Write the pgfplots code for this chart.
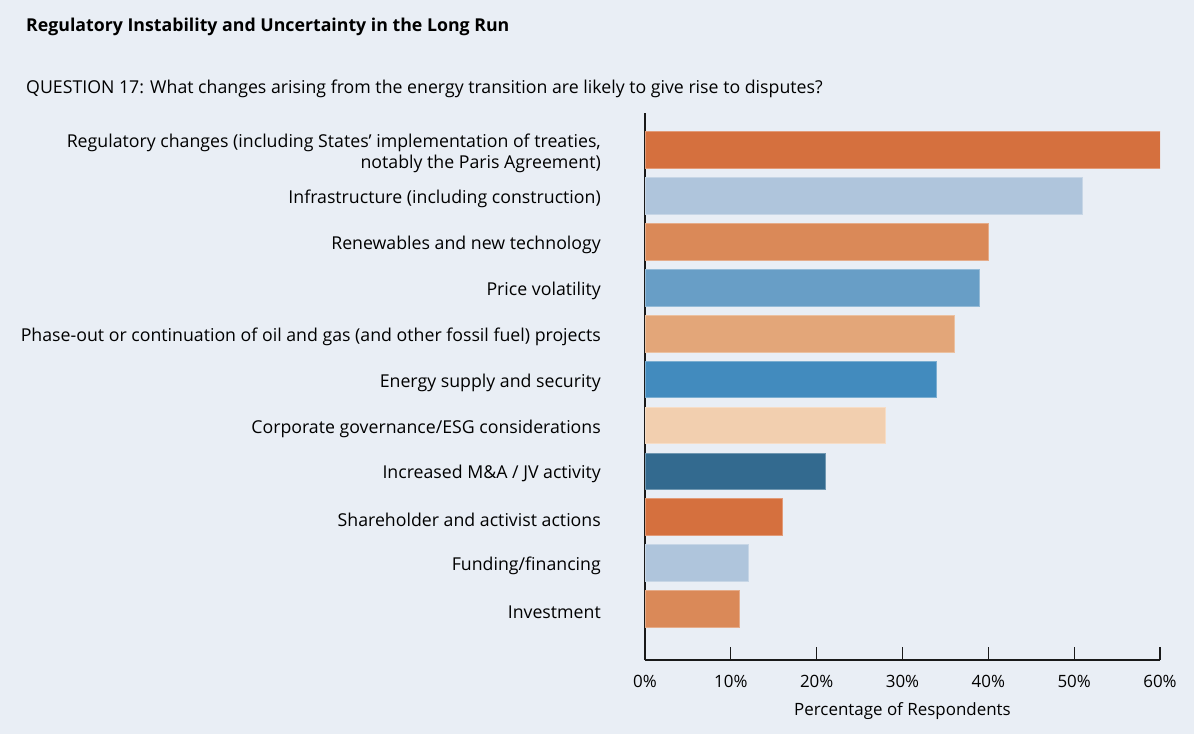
\documentclass[border=0pt]{standalone}
\usepackage{pgfplots}
\pgfplotsset{compat=1.18}
\usepackage{fontspec}
\setmainfont{Open Sans}
\definecolor{bg}{HTML}{E9EEF5}
\definecolor{orA}{HTML}{D5703E}
\definecolor{blA}{HTML}{AFC5DC}
\definecolor{orB}{HTML}{DA8958}
\definecolor{blB}{HTML}{689EC6}
\definecolor{orC}{HTML}{E3A679}
\definecolor{blC}{HTML}{428BBE}
\definecolor{orD}{HTML}{F2CFAF}
\definecolor{blD}{HTML}{336A8F}
\newcommand{\lbl}{\fontsize{17.8}{21}\selectfont}
\newcommand{\tck}{\fontsize{17}{20}\selectfont}
\begin{document}
\begin{tikzpicture}
\fill[bg] (0,0) rectangle (1194bp,-734bp);
\path[use as bounding box] (0,0) rectangle (1194bp,-734bp);
\node[anchor=base west, inner sep=0pt, font=\lbl\bfseries] at (26bp,-31bp)
  {Regulatory Instability and Uncertainty in the Long Run};
\node[anchor=base west, inner sep=0pt, font=\lbl] at (26bp,-93bp)
  {QUESTION 17: What changes arising from the energy transition are likely to give rise to disputes?};
\begin{axis}[
  at={(645bp,-660bp)}, anchor=south west,
  scale only axis, width=515bp, height=547bp,
  xbar, bar shift=0pt, bar width=0.8,
  xmin=0, xmax=60, ymin=-0.806, ymax=11.11, y dir=reverse,
  axis x line=bottom, axis y line=left,
  axis line style={-, black!90, line width=1.1bp},
  tick align=inside,
  xtick={0,10,20,30,40,50,60},
  xticklabels={0\%,10\%,20\%,30\%,40\%,50\%,60\%},
  major tick length=13bp,
  x tick style={black!90, line width=1.1bp},
  ytick={0,1,2,3,4,5,6,7,8,9,10},
  y tick style={draw=none},
  yticklabels={
    {Regulatory changes (including States’ implementation of treaties,\\notably the Paris Agreement)},
    {Infrastructure (including construction)},
    {Renewables and new technology},
    {Price volatility},
    {Phase-out or continuation of oil and gas (and other fossil fuel) projects},
    {Energy supply and security},
    {Corporate governance/ESG considerations},
    {Increased M\&A / JV activity},
    {Shareholder and activist actions},
    {Funding/financing},
    {Investment}},
  yticklabel style={anchor=east, inner sep=0pt, xshift=-44bp, yshift=-3bp, align=right, font=\lbl},
  xticklabel style={font=\tck, anchor=base, yshift=-27bp},
  xlabel={Percentage of Respondents},
  xlabel style={at={(axis description cs:0.5,0)}, anchor=base, yshift=-55bp, inner sep=0pt, font=\tck},
]
\addplot[fill=orA, draw=orA!70!white, line width=0.8bp] coordinates {(60,0)};
\addplot[fill=blA, draw=blA!70!white, line width=0.8bp] coordinates {(51,1)};
\addplot[fill=orB, draw=orB!70!white, line width=0.8bp] coordinates {(40,2)};
\addplot[fill=blB, draw=blB!70!white, line width=0.8bp] coordinates {(39,3)};
\addplot[fill=orC, draw=orC!70!white, line width=0.8bp] coordinates {(36,4)};
\addplot[fill=blC, draw=blC!70!white, line width=0.8bp] coordinates {(34,5)};
\addplot[fill=orD, draw=orD!70!white, line width=0.8bp] coordinates {(28,6)};
\addplot[fill=blD, draw=blD!70!white, line width=0.8bp] coordinates {(21,7)};
\addplot[fill=orA, draw=orA!70!white, line width=0.8bp] coordinates {(16,8)};
\addplot[fill=blA, draw=blA!70!white, line width=0.8bp] coordinates {(12,9)};
\addplot[fill=orB, draw=orB!70!white, line width=0.8bp] coordinates {(11,10)};
\end{axis}
\end{tikzpicture}
\end{document}
